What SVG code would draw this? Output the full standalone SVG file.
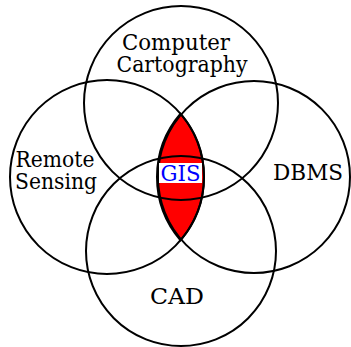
<svg xmlns="http://www.w3.org/2000/svg" width="351" height="347" viewBox="0 0 351 347">
<style>
.c{fill:none;stroke:#000;stroke-width:2}
.t{font-family:"DejaVu Serif","Liberation Serif",serif;font-size:22px;fill:#000;text-anchor:middle}
.g{font-family:"DejaVu Serif","Liberation Serif",serif;font-size:22px;fill:#0000ff;text-anchor:middle}
</style>
<rect width="351" height="347" fill="#fff"/>
<g id="gis-lens">
<path d="M180.5 113.7 A97 97 0 0 0 180.5 240.3 A97 97 0 0 0 180.5 113.7 Z" fill="#ff0000" stroke="#000" stroke-width="2"/>
</g>
<g id="connectors">
<circle id="top" class="c" cx="181" cy="103" r="97"/>
<circle id="left" class="c" cx="107" cy="177" r="97"/>
<circle id="right" class="c" cx="254" cy="177" r="96"/>
<circle id="bottom" class="c" cx="181" cy="251" r="95"/>
</g>
<g id="computer-cartography">
<text class="t" x="176" y="50" textLength="108" lengthAdjust="spacingAndGlyphs">Computer</text>
<text class="t" x="182" y="72" textLength="131" lengthAdjust="spacingAndGlyphs">Cartography</text>
</g>
<g id="remote-sensing">
<text class="t" x="55" y="167" textLength="79" lengthAdjust="spacingAndGlyphs">Remote</text>
<text class="t" x="56" y="189" textLength="82" lengthAdjust="spacingAndGlyphs">Sensing</text>
</g>
<g id="dbms">
<text class="t" x="308" y="180" textLength="70" lengthAdjust="spacingAndGlyphs">DBMS</text>
</g>
<g id="cad">
<text class="t" x="177" y="304" textLength="54" lengthAdjust="spacingAndGlyphs">CAD</text>
</g>
<g id="gis">
<rect x="159" y="163" width="43" height="20" fill="#fff"/>
<text class="g" x="180.5" y="180.5" textLength="40" lengthAdjust="spacingAndGlyphs">GIS</text>
</g>
</svg>
